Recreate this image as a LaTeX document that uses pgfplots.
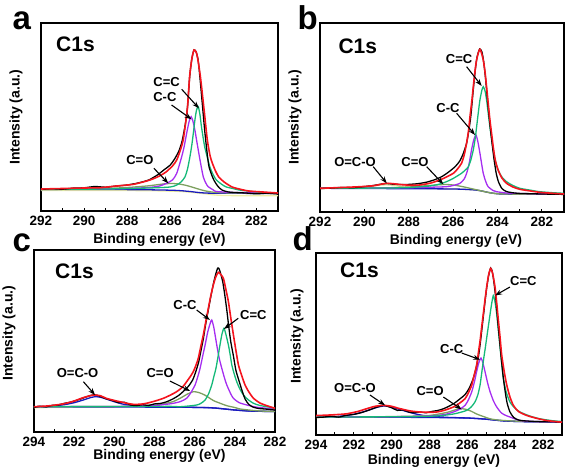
\documentclass[border=0pt]{standalone}
\usepackage{fontspec}
\setmainfont{Liberation Sans}
\usepackage{pgfplots}
\pgfplotsset{compat=1.18}
\usetikzlibrary{arrows.meta}
\definecolor{cred}{RGB}{245,20,30}
\definecolor{cpur}{RGB}{165,45,240}
\definecolor{cgrn}{RGB}{20,185,120}
\definecolor{colv}{RGB}{125,160,95}
\definecolor{cblu}{RGB}{25,25,190}
\definecolor{cyel}{RGB}{238,238,165}
\newcommand\tickfont{\fontsize{13.5}{14}\selectfont\bfseries}
\newcommand\annfont{\fontsize{13}{14}\selectfont\bfseries}
\newcommand\labfont{\fontsize{14}{15}\selectfont\bfseries}
\newcommand\cfont{\fontsize{21}{22}\selectfont\bfseries}
\newcommand\letfont{\fontsize{33}{34}\selectfont\bfseries}
\tikzset{arr/.style={-{Stealth[length=7pt,width=5pt]}, line width=1.1pt, black}}
\pgfplotsset{
  panel/.style={scale only axis, anchor=south west, x dir=reverse, ymin=0,
    ytick=\empty, xtick pos=left, tick align=inside,
    major tick length=3pt, minor tick length=3pt,
    axis line style={line width=1.2pt},
    every tick/.style={black, line width=0.9pt},
    ticklabel style={font=\tickfont},
    /pgf/number format/assume math mode=true,
    xticklabel style={yshift=-1.5pt},
    every axis plot/.append style={line width=1.3pt, smooth, tension=0.4}}
}
\begin{document}
\begin{tikzpicture}[x=1pt,y=1pt]
\useasboundingbox (0,0) rectangle (567,472);
% ---------------- panel a
\begin{axis}[panel, at={(41pt,261pt)}, width=237pt, height=188pt,
  xmin=281, xmax=292, ymax=188, xtick={282,284,...,292}, minor xtick={281,283,...,291}]
\addplot[cyel] coordinates {(292,20.5)(289,20.5)(287,20.3)(285.5,19.5)(284.5,17.5)(284,16.2)(283.5,15.5)(282,15.2)(281,15.2)};
\addplot[cblu] coordinates {(292,21.7)(290,21.6)(288,21.4)(287,21.2)(286,20.8)(285.5,20.3)(285,19.3)(284.7,18.5)(284.4,18)(284,17.8)(283,17.7)(282,17.6)(281,17.5)};
\addplot[colv] coordinates {(292,21.5)(291,21.7)(290,22)(289,22.5)(288,23.5)(287.5,24.3)(287,25.2)(286.6,26.3)(286.2,27.3)(285.9,27.5)(285.6,27)(285.3,25.8)(285,24)(284.7,22)(284.4,20.2)(284,18.8)(283.5,18.2)(283,18)(282,17.8)(281,17.5)};
\addplot[cpur] coordinates {(292,21.5)(289,22)(288,22.5)(287,23.5)(286.5,25)(286.17,27.7)(285.9,31)(285.7,37.7)(285.47,54.3)(285.35,65)(285.24,77.7)(285.12,90)(285.03,94.3)(284.95,90)(284.85,80)(284.78,71)(284.62,51)(284.47,34.3)(284.35,28)(284.24,24.3)(284.0,21)(283.86,19.5)(283,18.5)(281,18)};
\addplot[cgrn] coordinates {(292,21.5)(289,22)(287,23)(286,24)(285.7,26)(285.5,29)(285.32,34)(285.2,42)(285.09,54)(285.0,66)(284.93,77.7)(284.85,92)(284.78,101)(284.7,104.3)(284.62,96)(284.55,84)(284.4,64)(284.16,44)(284.0,36)(283.86,31)(283.6,26.5)(283.4,24)(283.1,22.5)(282.8,21)(282.2,19.5)(281.5,18.3)(281,18)};
\addplot[black] coordinates {(292,21.5)(291.5,22.3)(291,21.8)(290.5,22.9)(290,23.2)(289.5,24.5)(289,23.8)(288.5,25)(288,26)(287.5,28)(287,31)(286.6,36)(286.3,41)(286,46)(285.8,52)(285.6,60)(285.45,70)(285.3,87)(285.2,104)(285.1,134)(285.0,152)(284.9,161)(284.8,159)(284.7,150)(284.6,128)(284.5,104)(284.4,80)(284.3,60)(284.2,44)(284.0,32)(283.8,25)(283.6,21)(283.3,19)(283,18.5)(282.5,18)(282,17.2)(281.5,17.8)(281,17)};
\addplot[cred, line width=1.6pt] coordinates {(292,22)(291,22.5)(290,23)(289.26,23.3)(288.5,25)(287.7,26.7)(286.94,31)(286.5,35)(286.2,39)(285.9,45)(285.7,51)(285.5,63)(285.4,71)(285.3,86)(285.2,104)(285.1,135)(285.0,152)(284.9,161)(284.8,159)(284.74,154)(284.6,134)(284.43,101)(284.28,71)(284.15,55)(284.05,48)(283.9,40)(283.75,34)(283.5,29)(283.13,24)(282.7,21.5)(282.36,20)(281.7,19)(281,18)};
\node[font=\annfont] at (axis cs:286.17,129.3) {C=C};
\node[font=\annfont] at (axis cs:286.25,114.3) {C-C};
\node[font=\annfont] at (axis cs:287.41,51) {C=O};
\draw[arr] (axis cs:285.47,121.7) -- (axis cs:284.67,102.7);
\draw[arr] (axis cs:285.94,106) -- (axis cs:285.01,91.7);
\draw[arr] (axis cs:286.76,42.7) -- (axis cs:286.09,27.7);
\end{axis}
% ---------------- panel b
\begin{axis}[panel, at={(320pt,260pt)}, width=244pt, height=189pt,
  xmin=281, xmax=292, ymax=189, xtick={282,284,...,292}, minor xtick={281,283,...,291}]
\addplot[cyel!80!colv] coordinates {(292,23.6)(291,23.8)(290.3,24.3)(289.8,25.5)(289.4,26.7)(289,27.2)(288.6,26.5)(288.2,25)(287.7,23.8)(287,23.3)(286,23)(285,22)(284.4,19.5)(283.8,18)(281,17.7)};
\addplot[cblu] coordinates {(292,23.7)(290,23.5)(288,23.3)(287,23.2)(286,23)(285.5,22.7)(285,22)(284.7,21)(284.4,19.5)(284.1,18.5)(283.8,18)(283,17.8)(281,17.7)};
\addplot[colv] coordinates {(292,23.7)(290,23.8)(289,24.2)(288,25)(287.5,25.8)(287,26.6)(286.6,27.3)(286.3,27.5)(286,27)(285.6,25.5)(285.2,23.5)(284.8,21.5)(284.4,19.5)(284,18.3)(283,17.8)(281,17.7)};
\addplot[cpur] coordinates {(292,23.7)(289,24)(288,24.3)(287,24.8)(286.3,25.3)(286,26.5)(285.69,28.7)(285.5,33)(285.39,38.7)(285.28,48)(285.17,62)(285.07,72)(284.97,77)(284.88,70)(284.79,58.7)(284.64,38.7)(284.52,30)(284.42,25.3)(284.2,21.5)(284.04,20.3)(283.6,19)(283.29,18.7)(282,18)(281,17.8)};
\addplot[cgrn] coordinates {(292,23.7)(289,24)(288,24.4)(287.8,24.7)(287.05,26)(286.6,28)(286.3,30.3)(286,33.5)(285.62,38.7)(285.45,42)(285.32,45)(285.2,52)(285.09,62)(285.0,74)(284.94,85)(284.86,100)(284.79,112)(284.7,122)(284.64,125.3)(284.56,121)(284.49,112)(284.34,85)(284.19,62)(284.08,50)(283.97,42)(283.8,35)(283.59,30.3)(283.3,26.5)(282.99,23.7)(282.5,21.8)(282.09,20.3)(281.5,19.3)(281,18.7)};
\addplot[black] coordinates {(292,23.5)(291.5,23.9)(291,24.6)(290.5,24.3)(290,25.4)(289.6,26.5)(289.2,28)(289,28.6)(288.7,27.8)(288.3,27.5)(288,27.6)(287.6,28.3)(287.2,29.8)(286.8,32.5)(286.5,35.5)(286.2,40)(285.9,45.5)(285.7,51)(285.55,58)(285.4,68)(285.3,80)(285.2,96)(285.1,120)(285.0,142)(284.92,155)(284.8,163)(284.7,160)(284.62,150)(284.53,132)(284.45,112)(284.35,90)(284.25,70)(284.15,52)(284.05,38)(283.95,30)(283.8,23.5)(283.6,20.5)(283.3,19.2)(283,18.6)(282.5,18.3)(282,18)(281.5,17.8)(281,17.6)};
\addplot[cred, line width=1.6pt] coordinates {(292,23.7)(291.4,24.2)(290.8,24.7)(290.2,25.3)(289.6,26.2)(289.3,27.5)(289.0,28.7)(288.7,28.3)(288.3,27.3)(287.9,26.8)(287.5,27)(287,29)(286.6,32)(286.3,35)(285.99,38.7)(285.8,43)(285.62,48.7)(285.5,57)(285.39,69)(285.3,82)(285.24,95)(285.15,112)(285.09,125)(285.0,143)(284.94,152)(284.85,160)(284.79,162.7)(284.72,159)(284.64,152)(284.56,140)(284.49,125)(284.4,105)(284.34,92)(284.25,76)(284.19,65)(284.1,52)(283.97,42)(283.8,34)(283.59,28.7)(283.3,25)(282.99,22.7)(282.5,21)(282.09,19.7)(281.5,18.7)(281,18)};
\node[font=\annfont] at (axis cs:285.73,153) {C=C};
\node[font=\annfont] at (axis cs:286.23,104) {C-C};
\node[font=\annfont] at (axis cs:287.72,50.3) {C=O};
\node[font=\annfont] at (axis cs:290.42,50.3) {O=C-O};
\draw[arr] (axis cs:285.39,145.3) -- (axis cs:284.71,126);
\draw[arr] (axis cs:285.84,98.7) -- (axis cs:285.01,77);
\draw[arr] (axis cs:287.19,45.3) -- (axis cs:286.44,27.7);
\draw[arr] (axis cs:289.6,45.3) -- (axis cs:288.99,28.7);
\end{axis}
% ---------------- panel c
\begin{axis}[panel, at={(34pt,40pt)}, width=241pt, height=182pt,
  xmin=282, xmax=294, ymax=182, xtick={282,284,...,294}, minor xtick={283,285,...,293}]
\addplot[cyel] coordinates {(294,24.3)(293,24.5)(292,24.7)(291,24.8)(290,24.8)};
\addplot[cblu] coordinates {(294,25.3)(290,25)(287,24.8)(285.5,24.5)(285,24)(284.5,23)(284,22)(283.5,21.2)(283,20.8)(282,20.5)};
\addplot[cblu] coordinates {(294,25.3)(293.5,25.5)(293,26)(292.5,27.3)(292,29.3)(291.5,32.3)(291.2,34.3)(290.96,35.3)(290.7,34.8)(290.4,33)(290,30.3)(289.6,28)(289.2,26.6)(288.8,25.7)(288.2,25.2)(287,24.9)(286,24.6)(285,24)(284,22)(283,20.8)(282,20.5)};
\addplot[colv] coordinates {(294,25.3)(292,25.4)(290,25.5)(289,25.8)(288.4,26.3)(287.9,27)(287.5,28.3)(287.06,30.5)(286.7,34)(286.4,37.5)(286.07,40.3)(285.8,39.5)(285.5,37)(285.07,31.5)(284.7,28.5)(284.4,26.3)(284,24.5)(283.73,23)(283.2,21.8)(282.73,21)(282,20.5)};
\addplot[cpur] coordinates {(294,25.3)(290,25.5)(288,26.5)(287.5,27.5)(287.06,28.7)(286.7,30.5)(286.4,33.7)(286.2,39)(285.98,47)(285.85,55)(285.73,63.7)(285.6,76)(285.48,87)(285.35,100)(285.22,109)(285.15,112)(285.05,105)(284.9,87)(284.78,74)(284.65,63.7)(284.5,53)(284.4,47)(284.2,38)(284.07,33.7)(283.8,29.5)(283.4,27)(282.9,24.8)(282.4,23.7)(282,23)};
\addplot[cgrn] coordinates {(294,25.3)(288,25.5)(287.3,25.7)(286.73,25.3)(286.3,26)(285.9,27)(285.7,28.5)(285.48,32)(285.3,38.5)(285.15,47)(285.05,55)(284.94,63.7)(284.84,75)(284.74,87)(284.64,98)(284.54,103.7)(284.45,98)(284.32,87)(284.23,77)(284.15,67)(284.03,58)(283.9,50)(283.75,43)(283.57,37)(283.35,32.5)(283.07,28.7)(282.75,26.5)(282.4,25.3)(282,23.7)};
\addplot[black] coordinates {(294,24.5)(293.7,25.8)(293.4,25.1)(293.1,26.6)(292.8,27)(292.5,28.6)(292.2,29.8)(291.9,31.5)(291.6,33.6)(291.3,35.8)(291.0,37.3)(290.7,35.6)(290.4,33.2)(290.1,31.6)(289.8,29.4)(289.5,29.8)(289.2,27.1)(288.9,26.4)(288.6,27.3)(288.3,26.6)(288,28.1)(287.7,28.6)(287.4,30.2)(287.1,32.9)(286.8,36.5)(286.5,41.8)(286.3,46)(286.1,52)(285.95,60)(285.8,70)(285.7,80)(285.57,93)(285.45,108)(285.32,122)(285.2,135)(285.07,148)(284.95,158)(284.85,164)(284.78,163)(284.7,158)(284.6,150)(284.5,137)(284.4,122)(284.3,105)(284.2,90)(284.07,76)(283.95,62)(283.82,53)(283.65,42)(283.49,33)(283.3,27.5)(283.07,24.7)(282.8,23.5)(282.5,23)(282.2,22.3)(282,22)};
\addplot[cred, line width=1.6pt] coordinates {(294,25.3)(293.5,25.8)(293.2,26.3)(292.8,27.3)(292.4,28.7)(292,31)(291.56,34.3)(291.2,36.3)(290.98,37)(290.7,36.3)(290.4,33.7)(290.05,31.8)(289.73,30.3)(289.4,28.8)(289.06,27.7)(288.7,27.8)(288.4,28.7)(288,30.8)(287.56,33.7)(287.2,37)(286.9,40.3)(286.6,45)(286.4,50.3)(286.2,56)(286.07,60.3)(285.95,66)(285.82,73.7)(285.7,85)(285.57,97)(285.45,110)(285.32,123.7)(285.2,136)(285.07,147)(284.95,155)(284.82,159.7)(284.7,157.5)(284.57,153.7)(284.45,143)(284.32,130.3)(284.2,114)(284.07,97)(283.95,82)(283.82,67)(283.65,56)(283.49,47)(283.3,40)(283.07,33.7)(282.75,29)(282.4,26.3)(282,23.7)};
\node[font=\annfont] at (axis cs:291.83,58.7) {O=C-O};
\node[font=\annfont] at (axis cs:287.72,58.7) {C=O};
\node[font=\annfont] at (axis cs:286.48,127) {C-C};
\node[font=\annfont] at (axis cs:283.08,117) {C=C};
\draw[arr] (axis cs:291.54,50.3) -- (axis cs:290.96,37);
\draw[arr] (axis cs:287.23,51) -- (axis cs:286.23,41);
\draw[arr] (axis cs:285.9,122) -- (axis cs:285.24,112);
\draw[arr] (axis cs:283.83,113.7) -- (axis cs:284.54,103);
\end{axis}
% ---------------- panel d
\begin{axis}[panel, at={(316pt,37pt)}, width=246pt, height=182pt,
  xmin=281, xmax=294, ymax=182, xtick={282,284,...,294}, minor xtick={281,283,...,293}]
\addplot[cyel] coordinates {(294,17.5)(293,17.7)(292,17.8)(291,17.8)};
\addplot[cblu] coordinates {(294,18)(292,18)(290,17.8)(288,17.5)(287,17.3)(286,17)(285.5,16.5)(285,15.8)(284.5,14.8)(284,14)(283.5,13.6)(283,13.4)(282,13.2)(281,13)};
\addplot[cblu] coordinates {(294,18)(293,18.4)(292.4,19.5)(292,20.8)(291.6,22.6)(291.2,25)(290.8,27.5)(290.44,29)(290.1,28.5)(289.8,26.8)(289.4,24.5)(289,22.3)(288.6,20.5)(288.2,19.2)(287.6,18.3)(287,17.6)(286,17)(285,15.8)(284,14)(283,13.4)(281,13)};
\addplot[colv] coordinates {(294,18)(291,18.2)(289,18.8)(288,19.6)(287.45,21.2)(287,23)(286.7,24.8)(286.39,26.3)(286.1,25.8)(285.8,23.8)(285.51,21)(285.2,18.8)(284.8,16.2)(284.4,15)(283.9,14.3)(283,13.6)(281,13)};
\addplot[cpur] coordinates {(294,18)(290,18.3)(288,19)(287.2,20.5)(286.74,23)(286.4,25.8)(286.12,29.7)(285.95,35)(285.77,43.2)(285.63,53)(285.51,63.5)(285.4,72)(285.28,77)(285.18,72)(285.07,63.5)(284.93,52)(284.8,43.2)(284.62,34)(284.45,28)(284.2,22)(283.96,19.5)(283.75,18)(283.22,14.5)(282.5,13.5)(281,13)};
\addplot[cgrn] coordinates {(294,18)(289,18.3)(287.5,19.2)(286.74,21)(286.4,22.5)(286.04,24.6)(285.8,28)(285.6,33)(285.45,40)(285.33,50)(285.25,61)(285.16,73.6)(285.07,85)(284.98,97)(284.89,109)(284.8,121)(284.72,131)(284.63,139.5)(284.54,133)(284.45,121)(284.36,104)(284.27,87)(284.19,72)(284.1,56.7)(283.95,43)(283.75,33)(283.5,27)(283.22,23)(282.7,19)(282.16,16.2)(281.5,14.3)(281,13.5)};
\addplot[black] coordinates {(294,17.5)(293.6,17.9)(293.2,18.8)(292.8,17.9)(292.4,19.7)(292,20.6)(291.6,22.4)(291.2,24.9)(290.8,27.8)(290.4,29.5)(290,27.2)(289.7,24.6)(289.4,25.1)(289.1,23)(288.8,22.3)(288.5,23.1)(288.2,22.2)(287.9,23.5)(287.6,24.4)(287.3,26)(287,28.5)(286.7,31.7)(286.4,36)(286.12,40.5)(285.9,47)(285.7,56)(285.55,66)(285.42,78)(285.33,90)(285.25,103)(285.16,118)(285.07,133)(284.98,147)(284.88,159)(284.77,167)(284.68,163)(284.58,150)(284.48,133)(284.4,115)(284.3,95)(284.2,75)(284.1,57)(284,43)(283.9,32)(283.75,23)(283.55,17.5)(283.3,15)(283,14.2)(282.5,13.6)(282,13.3)(281.5,13.2)(281,13)};
\addplot[cred, line width=1.6pt] coordinates {(294,19.5)(293.5,19.8)(293,20.3)(292.38,21.2)(291.8,23.5)(291.32,26.3)(290.9,28.6)(290.44,29.7)(290,28.7)(289.7,27)(289.39,25.6)(289,24)(288.5,23)(288,22.7)(287.62,23)(287.2,24.8)(286.74,28)(286.4,32)(286.12,36.4)(285.95,42)(285.77,50)(285.64,60)(285.51,70)(285.42,82)(285.33,94)(285.25,107)(285.16,121)(285.07,135)(284.98,148)(284.88,160)(284.77,166.5)(284.66,161)(284.54,148)(284.45,132)(284.36,114)(284.27,97)(284.19,80.4)(284.05,63)(283.92,50)(283.75,38)(283.57,29.7)(283.3,23.5)(282.86,19.5)(282.3,16.5)(281.81,14.5)(281.3,13.4)(281,12.8)};
\node[font=\annfont] at (axis cs:283.04,153.8) {C=C};
\node[font=\annfont] at (axis cs:286.83,86.3) {C-C};
\node[font=\annfont] at (axis cs:287.97,44) {C=O};
\node[font=\annfont] at (axis cs:291.94,47) {O=C-O};
\draw[arr] (axis cs:283.75,148) -- (axis cs:284.54,139.5);
\draw[arr] (axis cs:286.3,82) -- (axis cs:285.33,75.3);
\draw[arr] (axis cs:287.27,38) -- (axis cs:286.3,25.6);
\draw[arr] (axis cs:291.15,40) -- (axis cs:290.35,29.7);
\end{axis}
% ---------------- labels
\node[font=\letfont, anchor=base west] at (9,442) {a};
\node[font=\letfont, anchor=base west] at (294,442) {b};
\node[font=\letfont, anchor=base west] at (9,220.5) {c};
\node[font=\letfont, anchor=base west] at (289,222) {d};
\node[font=\cfont, anchor=base west] at (52.7,420.3) {C1s};
\node[font=\cfont, anchor=base west] at (335,418.7) {C1s};
\node[font=\cfont, anchor=base west] at (51.7,193.7) {C1s};
\node[font=\cfont, anchor=base west] at (336.7,195) {C1s};
\node[font=\labfont] at (159.5,232) {Binding energy (eV)};
\node[font=\labfont] at (456,231) {Binding energy (eV)};
\node[font=\labfont] at (159.5,16) {Binding energy (eV)};
\node[font=\labfont] at (434,11) {Binding energy (eV)};
\node[font=\labfont, rotate=90] at (16,355) {Intensity (a.u.)};
\node[font=\labfont, rotate=90] at (295,355) {Intensity (a.u.)};
\node[font=\labfont, rotate=90] at (9,139) {Intensity (a.u.)};
\node[font=\labfont, rotate=90] at (297,136) {Intensity (a.u.)};
\end{tikzpicture}
\end{document}
